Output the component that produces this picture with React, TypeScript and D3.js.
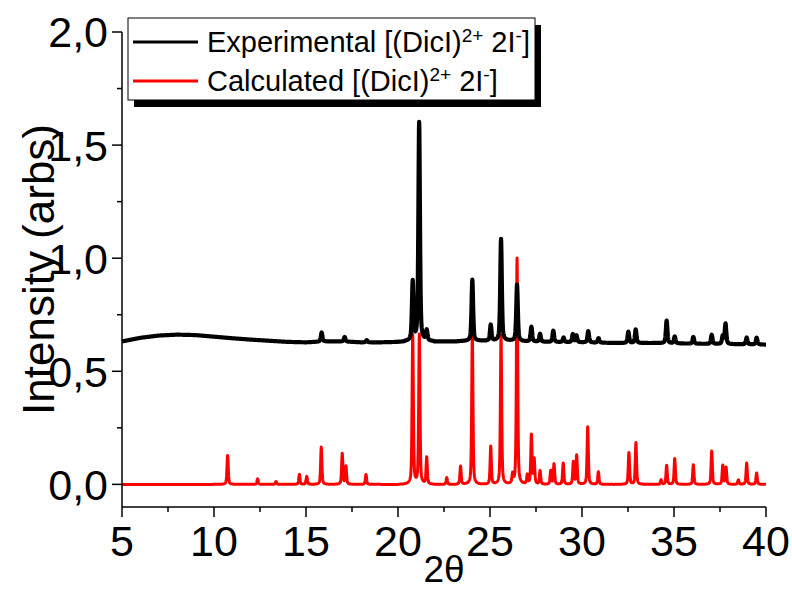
import React from "react";
import * as d3 from "d3";

// ---- data ----
const xTicks = [5, 10, 15, 20, 25, 30, 35, 40];
const yTicks = [0, 0.5, 1.0, 1.5, 2.0];
const xMinorTicks = [7.5, 12.5, 17.5, 22.5, 27.5, 32.5, 37.5];
const yMinorTicks = [0.25, 0.75, 1.25, 1.75];

// experimental background (2θ, intensity)
const expBaseX = [5, 6, 7, 8, 9, 10, 11, 12, 13, 14, 15, 16, 17, 18, 19, 20, 21, 22, 23, 24, 25, 26, 27, 28, 30, 32, 34, 36, 38, 40];
const expBaseY = [0.632, 0.648, 0.658, 0.662, 0.66, 0.653, 0.646, 0.64, 0.635, 0.63, 0.628, 0.632, 0.632, 0.628, 0.628, 0.63, 0.635, 0.632, 0.632, 0.635, 0.635, 0.635, 0.632, 0.63, 0.628, 0.625, 0.625, 0.622, 0.62, 0.618];

// experimental reflections (2θ, height above background)
const expPeakPos = [15.85, 17.1, 18.3, 20.8, 21.15, 21.56, 24.04, 25.04, 25.6, 26.47, 27.25, 27.72, 28.44, 29.0, 29.5, 29.7, 30.34, 30.9, 32.52, 32.92, 34.6, 35.04, 36.05, 37.05, 37.65, 37.8, 38.95, 39.49];
const expPeakHeight = [0.04, 0.02, 0.01, 0.26, 0.965, 0.045, 0.27, 0.07, 0.45, 0.25, 0.065, 0.035, 0.05, 0.02, 0.035, 0.03, 0.05, 0.02, 0.05, 0.06, 0.1, 0.03, 0.03, 0.04, 0.035, 0.09, 0.03, 0.03];

// calculated reflections (2θ, intensity)
const calcPeakPos = [10.74, 12.37, 13.37, 14.64, 15.04, 15.83, 16.97, 17.17, 18.26, 20.8, 21.16, 21.56, 22.65, 23.4, 24.04, 25.04, 25.6, 26.23, 26.47, 27.03, 27.25, 27.4, 27.72, 28.3, 28.48, 28.98, 29.53, 29.71, 30.31, 30.89, 32.55, 32.93, 34.3, 34.6, 35.04, 36.05, 37.05, 37.65, 37.83, 38.5, 38.95, 39.49];
const calcPeakHeight = [0.128, 0.025, 0.013, 0.044, 0.035, 0.165, 0.136, 0.08, 0.044, 0.66, 0.66, 0.118, 0.03, 0.08, 0.66, 0.168, 0.66, 0.04, 1.0, 0.04, 0.217, 0.11, 0.06, 0.06, 0.09, 0.094, 0.099, 0.128, 0.254, 0.055, 0.14, 0.184, 0.02, 0.084, 0.114, 0.087, 0.147, 0.084, 0.075, 0.02, 0.094, 0.05];

const seriesNames = ["Experimental", "Calculated"];
const seriesColors = ["#000000", "#ff0000"];

// ---- layout ----
const W = 792;
const H = 592;
const left = 122;
const right = 766;
const top = 32;
const bottom = 507;
const FONT = "'Liberation Sans', Arial, sans-serif";

function profile(dx: number, fwhm: number) {
  const g = Math.exp(-4 * Math.LN2 * (dx / fwhm) ** 2);
  const l = 1 / (1 + 4 * (dx / fwhm) ** 2);
  return 0.5 * g + 0.5 * l;
}

function buildPattern(
  grid: number[],
  pos: number[],
  hts: number[],
  base: (x: number) => number,
  fwhm: number
): [number, number][] {
  return grid.map((x) => {
    let y = base(x);
    for (let i = 0; i < pos.length; i++) {
      const dx = x - pos[i];
      if (Math.abs(dx) < 0.8) y += hts[i] * profile(dx, fwhm);
    }
    return [x, y];
  });
}

export default function App() {
  const x = d3.scaleLinear().domain([5, 40]).range([left, right]);
  const y = d3.scaleLinear().domain([-0.1, 2.0]).range([bottom, top]);
  const baseScale = d3.scaleLinear().domain(expBaseX).range(expBaseY);
  const grid = d3.range(5, 40.0001, 0.01);

  const expData = buildPattern(grid, expPeakPos, expPeakHeight, (v) => baseScale(v), 0.1);
  const calcData = buildPattern(grid, calcPeakPos, calcPeakHeight, () => 0, 0.08);

  const line = d3
    .line<[number, number]>()
    .x((d) => x(d[0]))
    .y((d) => y(d[1]));

  const fmtY = (v: number) => d3.format(".1f")(v).replace(".", ",");

  const legX = 128;
  const legY = 18;
  const legW = 407;
  const legH = 82;

  const legendLabel = (name: string) => (
    <>
      {name} [(DicI)
      <tspan baselineShift="super" fontSize={19}>2+</tspan>
      <tspan> 2I</tspan>
      <tspan baselineShift="super" fontSize={19}>-</tspan>
      <tspan>]</tspan>
    </>
  );

  return (
    <svg
      width={W}
      height={H}
      style={{ position: "absolute", left: 0, top: 0, background: "#fff" }}
      fontFamily={FONT}
    >
      <rect x={0} y={0} width={W} height={H} fill="#fff" />

      {/* calculated first, experimental on top */}
      <path d={line(calcData) || ""} fill="none" stroke={seriesColors[1]} strokeWidth={3} strokeLinejoin="round" />
      <path d={line(expData) || ""} fill="none" stroke={seriesColors[0]} strokeWidth={4.2} strokeLinejoin="round" />

      {/* axes */}
      <line x1={left} x2={left} y1={top} y2={bottom} stroke="#000" strokeWidth={1.5} />
      <line x1={left} x2={right} y1={bottom} y2={bottom} stroke="#000" strokeWidth={1.5} />
      {yTicks.map((t) => (
        <g key={"y" + t}>
          <line x1={left - 10} x2={left} y1={y(t)} y2={y(t)} stroke="#000" strokeWidth={1.5} />
          <text x={left - 14} y={y(t)} dy="0.36em" textAnchor="end" fontSize={43}>
            {fmtY(t)}
          </text>
        </g>
      ))}
      {yMinorTicks.map((t) => (
        <line key={"ym" + t} x1={left - 5} x2={left} y1={y(t)} y2={y(t)} stroke="#000" strokeWidth={1.5} />
      ))}
      {xTicks.map((t) => (
        <g key={"x" + t}>
          <line x1={x(t)} x2={x(t)} y1={bottom} y2={bottom + 10} stroke="#000" strokeWidth={1.5} />
          <text x={x(t)} y={bottom + 49} textAnchor="middle" fontSize={43}>
            {t}
          </text>
        </g>
      ))}
      {xMinorTicks.map((t) => (
        <line key={"xm" + t} x1={x(t)} x2={x(t)} y1={bottom} y2={bottom + 5} stroke="#000" strokeWidth={1.5} />
      ))}

      <text x={(left + right) / 2} y={582} textAnchor="middle" fontSize={37}>
        2θ
      </text>
      <text
        transform={`translate(54, ${(top + bottom) / 2}) rotate(-90)`}
        textAnchor="middle"
        fontSize={44}
      >
        Intensity (arbs)
      </text>

      {/* legend */}
      <rect x={legX + 6} y={legY + 7} width={legW} height={legH} fill="#000" />
      <rect x={legX} y={legY} width={legW} height={legH} fill="#fff" stroke="#000" strokeWidth={1} />
      {seriesNames.map((n, i) => (
        <g key={n}>
          <line
            x1={legX + 5}
            x2={legX + 70}
            y1={legY + 24 + i * 39}
            y2={legY + 24 + i * 39}
            stroke={seriesColors[i]}
            strokeWidth={3}
          />
          <text x={legX + 79} y={legY + 24 + i * 39} dy="0.36em" fontSize={29}>
            {legendLabel(n)}
          </text>
        </g>
      ))}
    </svg>
  );
}
